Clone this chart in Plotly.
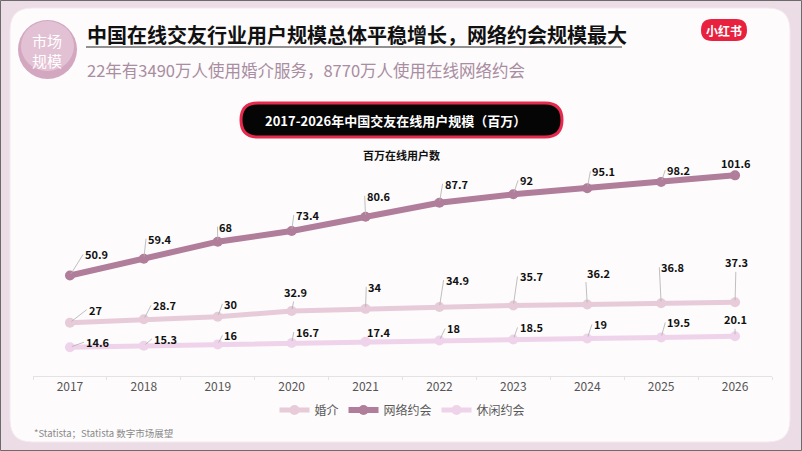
import plotly.graph_objects as go

# ---------------- data ----------------
years = ['2017', '2018', '2019', '2020', '2021', '2022', '2023', '2024', '2025', '2026']
series_names = ['婚介', '网络约会', '休闲约会']
matchmaking = [27, 28.7, 30, 32.9, 34, 34.9, 35.7, 36.2, 36.8, 37.3]          # 婚介
online_dating = [50.9, 59.4, 68, 73.4, 80.6, 87.7, 92, 95.1, 98.2, 101.6]     # 网络约会
casual_dating = [14.6, 15.3, 16, 16.7, 17.4, 18, 18.5, 19, 19.5, 20.1]        # 休闲约会

# ---------------- layout helpers ----------------
W, H = 802, 451
L, R, T, B = 33, 30, 139, 75
PW, PH = W - L - R, H - T - B

def px(x):
    return (x - L) / PW

def py(y):
    return (H - B - y) / PH

def rrect(x0, y0, x1, y1, r):
    """rounded rectangle path in paper coords from pixel box"""
    pts = [
        f"M {px(x0 + r)} {py(y0)}",
        f"L {px(x1 - r)} {py(y0)}",
        f"Q {px(x1)} {py(y0)} {px(x1)} {py(y0 + r)}",
        f"L {px(x1)} {py(y1 - r)}",
        f"Q {px(x1)} {py(y1)} {px(x1 - r)} {py(y1)}",
        f"L {px(x0 + r)} {py(y1)}",
        f"Q {px(x0)} {py(y1)} {px(x0)} {py(y1 - r)}",
        f"L {px(x0)} {py(y0 + r)}",
        f"Q {px(x0)} {py(y0)} {px(x0 + r)} {py(y0)}",
        "Z",
    ]
    return " ".join(pts)

# label centre offsets (pixels) for data labels, per series
off_match = [(25, -13), (20, -14), (13, -13), (4, -19), (9, -22), (17, -27), (17, -29), (11, -32), (11, -36), (1, -40)]
off_online = [(26, -21), (15, -20), (8, -15), (15, -16), (12, -21), (16, -19), (13, -14), (16, -17), (17, -12), (1, -12)]
off_casual = [(27, -5), (21, -7), (13, -9), (15, -11), (12, -10), (14, -12), (17, -12), (13, -14), (17, -15), (0, -17)]

colors = ['#e7cbd9', '#b07d9a', '#efd3ea']
widths = [5, 6, 5]
FONT = 'Noto Sans CJK SC'

fig = go.Figure()
for name, vals, col, w in zip(series_names, [matchmaking, online_dating, casual_dating], colors, widths):
    fig.add_trace(go.Scatter(
        x=years, y=vals, name=name, mode='lines+markers',
        line=dict(color=col, width=w),
        marker=dict(color=col, size=10),
        hoverinfo='skip',
    ))

def text_w(s):
    return sum(2.8 if c == '.' else 6.3 for c in s)

annotations = []
for vals, offs in zip([matchmaking, online_dating, casual_dating], [off_match, off_online, off_casual]):
    for i, (v, (dx, dy)) in enumerate(zip(vals, offs)):
        s = f'{v:g}'
        if dx > 6:
            ax = dx - text_w(s) / 2 - 2
            xa = 'left'
        else:
            ax = dx
            xa = 'center'
        annotations.append(dict(
            x=i, y=v, xref='x', yref='y', text=f'<b>{s}</b>',
            showarrow=True, arrowhead=0, arrowwidth=0.8, arrowcolor='#b0b0b0',
            ax=ax, ay=dy, standoff=2, xanchor=xa, yanchor='middle',
            font=dict(family=FONT, size=11, color='#111111'),
        ))

shapes = []
# outer border
shapes.append(dict(type='rect', xref='paper', yref='paper', x0=px(0.5), x1=px(W - 0.5), y0=py(0.5), y1=py(H - 0.5),
                   line=dict(color='#6b6b6b', width=1), fillcolor='rgba(0,0,0,0)', layer='below'))
# white card
shapes.append(dict(type='path', xref='paper', yref='paper', path=rrect(10, 8, 790, 442, 22),
                   fillcolor='#fdfbfc', line=dict(color='#f3e8ee', width=1), layer='below'))
# circle badge
shapes.append(dict(type='circle', xref='paper', yref='paper', x0=px(18), x1=px(77), y0=py(20), y1=py(79),
                   fillcolor='#d3a7c0', line=dict(width=0), layer='below'))
shapes.append(dict(type='circle', xref='paper', yref='paper', x0=px(21), x1=px(74), y0=py(21), y1=py(71),
                   fillcolor='rgba(240,215,228,0.55)', line=dict(width=0), layer='below'))
# title underline
shapes.append(dict(type='line', xref='paper', yref='paper', x0=px(86), x1=px(622), y0=py(47), y1=py(47),
                   line=dict(color='#6e6e6e', width=1.5), layer='below'))
# red logo pill
shapes.append(dict(type='path', xref='paper', yref='paper', path=rrect(701, 19, 747, 41, 11),
                   fillcolor='#e8213f', line=dict(width=0), layer='below'))
# chart title box
shapes.append(dict(type='path', xref='paper', yref='paper', path=rrect(241, 103, 562, 137, 17),
                   fillcolor='#050505', line=dict(color='#e52a4e', width=3), layer='below'))

annotations += [
    dict(xref='paper', yref='paper', x=px(47), y=py(40), text='市场', showarrow=False,
         font=dict(family=FONT, size=15, color='#ffffff'), xanchor='center', yanchor='middle'),
    dict(xref='paper', yref='paper', x=px(47), y=py(60), text='规模', showarrow=False,
         font=dict(family=FONT, size=15, color='#ffffff'), xanchor='center', yanchor='middle'),
    dict(xref='paper', yref='paper', x=px(85), y=py(34), text='<b>中国在线交友行业用户规模总体平稳增长，网络约会规模最大</b>',
         showarrow=False, font=dict(family=FONT, size=20, color='#111111'), xanchor='left', yanchor='middle'),
    dict(xref='paper', yref='paper', x=px(85), y=py(70), text='22年有3490万人使用婚介服务，8770万人使用在线网络约会',
         showarrow=False, font=dict(family=FONT, size=16.5, color='#a98da0'), xanchor='left', yanchor='middle'),
    dict(xref='paper', yref='paper', x=px(724), y=py(30), text='<b>小红书</b>', showarrow=False,
         font=dict(family=FONT, size=12, color='#ffffff'), xanchor='center', yanchor='middle'),
    dict(xref='paper', yref='paper', x=px(395), y=py(120), text='<b>2017-2026年中国交友在线用户规模（百万）</b>',
         showarrow=False, font=dict(family=FONT, size=13, color='#ffffff'), xanchor='center', yanchor='middle'),
    dict(xref='paper', yref='paper', x=px(401), y=py(155), text='<b>百万在线用户数</b>', showarrow=False,
         font=dict(family=FONT, size=11, color='#111111'), xanchor='center', yanchor='middle'),
    dict(xref='paper', yref='paper', x=px(32), y=py(433), text='*Statista；Statista 数字市场展望', showarrow=False,
         font=dict(family=FONT, size=9.5, color='#8a8a8a'), xanchor='left', yanchor='middle'),
]

fig.update_layout(
    width=W, height=H,
    margin=dict(l=L, r=R, t=T, b=B, pad=0),
    paper_bgcolor='#ecdce5', plot_bgcolor='rgba(0,0,0,0)',
    font=dict(family=FONT),
    showlegend=True,
    legend=dict(orientation='h', x=0.5, xanchor='center', y=py(410), yanchor='middle',
                font=dict(family=FONT, size=12, color='#5a5a5a'), bgcolor='rgba(0,0,0,0)',
                itemwidth=30, traceorder='normal'),
    xaxis=dict(type='category', range=[-0.5, 9.5], showline=True, linecolor='#e3e3e3', linewidth=1,
               ticks='outside', ticklen=3, tickcolor='#e3e3e3', tickson='boundaries',
               showgrid=False, zeroline=False,
               tickfont=dict(family=FONT, size=12, color='#555555')),
    yaxis=dict(range=[0, 120], visible=False, showgrid=False, zeroline=False),
    shapes=shapes, annotations=annotations,
)

fig.write_html('out.html', config={'displayModeBar': False},
               post_script="document.body.style.margin='0';document.body.style.overflow='hidden';")
